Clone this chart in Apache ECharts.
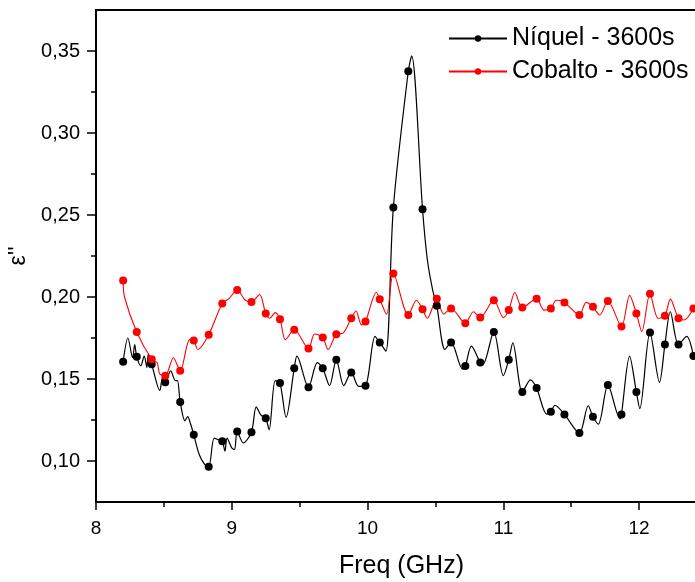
<!DOCTYPE html>
<html>
<head>
<meta charset="utf-8">
<script src="https://cdn.jsdelivr.net/npm/echarts@6/dist/echarts.min.js"></script>
<style>
  html, body { margin: 0; padding: 0; background: #fff; }
  #chart { width: 695px; height: 582px; }
</style>
</head>
<body>
<div id="chart"></div>
<script>
// marker positions (GHz), shared by both curves
const freq = [8.20, 8.30, 8.41, 8.51, 8.62, 8.72, 8.83, 8.93, 9.04, 9.145,
  9.25, 9.355, 9.46, 9.565, 9.67, 9.77, 9.88, 9.985, 10.09, 10.19,
  10.30, 10.405, 10.51, 10.615, 10.72, 10.83, 10.93, 11.04, 11.14, 11.245,
  11.35, 11.45, 11.56, 11.66, 11.77, 11.87, 11.98, 12.08, 12.19, 12.29, 12.40];

const nickelMarks = [0.1605, 0.1635, 0.159, 0.148, 0.136, 0.116, 0.0965, 0.112, 0.118, 0.1175,
  0.126, 0.1475, 0.1565, 0.145, 0.1565, 0.1617, 0.154, 0.1459, 0.1723, 0.2545,
  0.3377, 0.2535, 0.1946, 0.1723, 0.158, 0.160, 0.1787, 0.1617, 0.142, 0.1445,
  0.130, 0.1284, 0.117, 0.127, 0.1463, 0.1284, 0.142, 0.1784, 0.171, 0.171, 0.164];

const cobaltMarks = [0.210, 0.1787, 0.162, 0.152, 0.155, 0.1735, 0.177, 0.196, 0.2043, 0.197,
  0.190, 0.1865, 0.180, 0.1686, 0.1753, 0.1773, 0.187, 0.185, 0.1987, 0.2143,
  0.189, 0.1926, 0.199, 0.193, 0.184, 0.1875, 0.198, 0.192, 0.1936, 0.199,
  0.193, 0.1967, 0.189, 0.194, 0.1976, 0.182, 0.190, 0.202, 0.1885, 0.187, 0.193];

// extra points of the measured curves between markers (peaks / troughs)
const nickelLineX = [8.235, 8.27, 8.285, 8.33, 8.355, 8.375, 8.385, 8.47, 8.49, 8.55,
  8.585, 8.60, 8.655, 8.675, 8.695, 8.76, 8.80, 8.87, 8.90, 8.95,
  8.965, 9.00, 9.02, 9.085, 9.18, 9.215, 9.275, 9.32, 9.40, 9.48,
  9.63, 9.72, 9.825, 9.935, 10.055, 10.135, 10.325, 10.44, 10.48, 10.57,
  10.70, 10.765, 10.85, 11.00, 11.07, 11.20, 11.32, 11.38, 11.625, 11.70,
  11.86, 11.93, 12.005, 12.15, 12.23, 12.35];
const nickelLineY = [0.175, 0.163, 0.171, 0.158, 0.164, 0.157, 0.165, 0.143, 0.151, 0.155,
  0.149, 0.149, 0.1245, 0.127, 0.123, 0.104, 0.098, 0.114, 0.113, 0.106,
  0.114, 0.108, 0.107, 0.111, 0.133, 0.128, 0.119, 0.149, 0.1266, 0.164,
  0.160, 0.146, 0.146, 0.1455, 0.176, 0.167, 0.347, 0.223, 0.204, 0.168,
  0.156, 0.170, 0.159, 0.152, 0.172, 0.1495, 0.1286, 0.134, 0.1337, 0.1225,
  0.1256, 0.164, 0.132, 0.148, 0.191, 0.176];

const cobaltLineX = [8.21, 8.45, 8.47, 8.57, 8.69, 8.75, 8.98, 9.10, 9.205, 9.28,
  9.32, 9.395, 9.61, 9.71, 9.82, 9.915, 9.955, 10.065, 10.14, 10.36,
  10.44, 10.56, 10.78, 11.00, 11.085, 11.30, 11.39, 11.61, 11.71, 11.93,
  12.02, 12.14, 12.23, 12.33];
const cobaltLineY = [0.200, 0.160, 0.153, 0.163, 0.174, 0.168, 0.199, 0.198, 0.2015, 0.187,
  0.1905, 0.174, 0.1774, 0.168, 0.178, 0.1915, 0.183, 0.2027, 0.1895, 0.198,
  0.187, 0.1895, 0.191, 0.1875, 0.2027, 0.192, 0.198, 0.1967, 0.189, 0.201,
  0.179, 0.187, 0.1987, 0.186];

const yMajor = [0.10, 0.15, 0.20, 0.25, 0.30, 0.35];
const yMinor = [0.125, 0.175, 0.225, 0.275, 0.325];

// merge markers and line points, markers keep a symbol
function buildData(marks, lx, ly) {
  const pts = [];
  freq.forEach((x, i) => pts.push({ value: [x, marks[i]], symbol: 'circle' }));
  lx.forEach((x, i) => pts.push({ value: [x, ly[i]], symbol: 'none' }));
  pts.sort((a, b) => a.value[0] - b.value[0]);
  return pts;
}

const font = 'Liberation Sans, Arial, sans-serif';
const chart = echarts.init(document.getElementById('chart'));

chart.setOption({
  animation: false,
  grid: {
    left: 96, top: 10, right: -12, bottom: 80,
    outerBoundsMode: 'none', containLabel: false,
    show: true, borderColor: '#000', borderWidth: 2
  },
  legend: {
    orient: 'vertical',
    left: 443, top: 21,
    itemWidth: 58, itemHeight: 8, itemGap: 8,
    textStyle: { fontFamily: font, fontSize: 25, color: '#000' },
    data: ['Níquel - 3600s', 'Cobalto - 3600s']
  },
  xAxis: {
    type: 'value',
    min: 8, max: 12.5, interval: 1,
    name: 'Freq (GHz)',
    nameLocation: 'middle', nameGap: 52,
    nameTextStyle: { fontFamily: font, fontSize: 25, color: '#000' },
    axisLine: { lineStyle: { color: '#000', width: 2 } },
    axisTick: { length: 8, lineStyle: { color: '#000', width: 1.5 } },
    minorTick: { show: true, splitNumber: 2, length: 5, lineStyle: { color: '#000', width: 1.5 } },
    axisLabel: { fontFamily: font, fontSize: 19, color: '#000', margin: 17, showMaxLabel: false },
    splitLine: { show: false }
  },
  yAxis: [{
    type: 'value',
    min: 0.075, max: 0.375,
    name: "ε''",
    nameLocation: 'middle', nameGap: 64, nameRotate: 90,
    nameTextStyle: { fontFamily: font, fontSize: 23, color: '#000' },
    axisLine: { show: true, lineStyle: { color: '#000', width: 2 } },
    axisTick: { customValues: yMajor, length: 9, lineStyle: { color: '#000', width: 1.5 } },
    axisLabel: {
      customValues: yMajor,
      fontFamily: font, fontSize: 20, color: '#000', margin: 16,
      formatter: v => v.toFixed(2).replace('.', ',')
    },
    splitLine: { show: false }
  }, {
    type: 'value',
    position: 'left',
    min: 0.075, max: 0.375,
    axisLine: { show: false },
    axisTick: { customValues: yMinor, length: 5, lineStyle: { color: '#000', width: 1.5 } },
    axisLabel: { show: false },
    splitLine: { show: false }
  }],
  series: [{
    name: 'Níquel - 3600s',
    type: 'line',
    data: buildData(nickelMarks, nickelLineX, nickelLineY),
    smooth: 0.3,
    symbol: 'circle',
    showAllSymbol: true,
    symbolSize: 8,
    color: '#000',
    lineStyle: { color: '#000', width: 1.2 },
    itemStyle: { color: '#000' }
  }, {
    name: 'Cobalto - 3600s',
    type: 'line',
    data: buildData(cobaltMarks, cobaltLineX, cobaltLineY),
    smooth: 0.3,
    symbol: 'circle',
    showAllSymbol: true,
    symbolSize: 8,
    color: '#ff0000',
    lineStyle: { color: '#ff0000', width: 1.1 },
    itemStyle: { color: '#ff0000' }
  }]
});
</script>
</body>
</html>
